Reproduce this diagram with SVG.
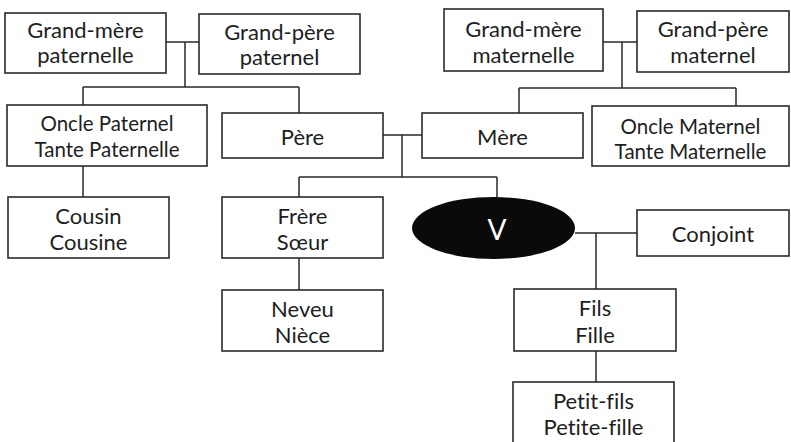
<svg xmlns="http://www.w3.org/2000/svg" width="791" height="442" viewBox="0 0 791 442">
<style>
.b{fill:#fff;stroke:#2a2a2a;stroke-width:1.6}
text{font-family:Lato,"Open Sans","Liberation Sans",sans-serif;font-size:22px;fill:#1e1e1e;text-anchor:middle;font-variant-ligatures:none}
.s text{font-size:20.5px}
#connectors path{fill:none;stroke:#2a2a2a;stroke-width:1.5}
</style>
<g id="connectors">
<path d="M166 42H199M185 42V87M83 87H299M83 87V105M299 87V113"/>
<path d="M83 166V197"/>
<path d="M603 42H637M622 42V88M519 88H736M519 88V113M736 88V106"/>
<path d="M383 135H422M402 135V177M299 177H497M299 177V197M497 177V197"/>
<path d="M299 258V290"/>
<path d="M575 233H637M596 233V289M596 351V382"/>
</g>
<g id="gmp"><rect class="b" x="5" y="13" width="161" height="60"/><text x="85.5" y="38">Grand-mère</text><text x="85.5" y="63">paternelle</text></g>
<g id="gpp"><rect class="b" x="199" y="14" width="161" height="60"/><text x="279.5" y="40">Grand-père</text><text x="279.5" y="65">paternel</text></g>
<g id="gmm"><rect class="b" x="444" y="9" width="159" height="62"/><text x="523.5" y="37">Grand-mère</text><text x="523.5" y="63">maternelle</text></g>
<g id="gpm"><rect class="b" x="637" y="11" width="152" height="61"/><text x="713" y="37">Grand-père</text><text x="713" y="63">maternel</text></g>
<g id="oncle-p" class="s"><rect class="b" x="7" y="105" width="200" height="61"/><text x="107" y="131">Oncle Paternel</text><text x="107" y="157">Tante Paternelle</text></g>
<g id="pere"><rect class="b" x="222" y="113" width="161" height="45"/><text x="302.5" y="145">Père</text></g>
<g id="mere"><rect class="b" x="422" y="113" width="161" height="45"/><text x="502.5" y="145">Mère</text></g>
<g id="oncle-m" class="s"><rect class="b" x="592" y="106" width="197" height="60"/><text x="690.5" y="134">Oncle Maternel</text><text x="690.5" y="159">Tante Maternelle</text></g>
<g id="cousin"><rect class="b" x="8" y="197" width="161" height="61"/><text x="88.5" y="224">Cousin</text><text x="88.5" y="250">Cousine</text></g>
<g id="frere"><rect class="b" x="222" y="197" width="161" height="61"/><text x="302.5" y="224">Frère</text><text x="302.5" y="250">Sœur</text></g>
<g id="neveu"><rect class="b" x="222" y="290" width="161" height="61"/><text x="302.5" y="317">Neveu</text><text x="302.5" y="343">Nièce</text></g>
<g id="ego"><ellipse cx="493.5" cy="228" rx="81.5" ry="31" fill="#0a0a0a"/><text x="497" y="240" style="fill:#fff;font-size:28px">V</text></g>
<g id="conjoint"><rect class="b" x="637" y="210" width="152" height="46"/><text x="713" y="242">Conjoint</text></g>
<g id="fils"><rect class="b" x="514" y="289" width="162" height="62"/><text x="595" y="316">Fils</text><text x="595" y="343">Fille</text></g>
<g id="petit"><rect class="b" x="513" y="382" width="161" height="70"/><text x="593.5" y="409">Petit-fils</text><text x="593.5" y="435">Petite-fille</text></g>
</svg>
